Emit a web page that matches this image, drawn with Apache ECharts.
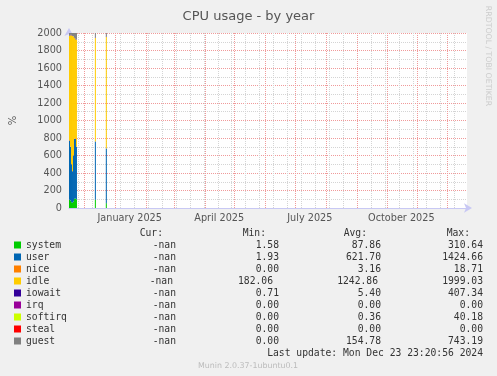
<!DOCTYPE html>
<html>
<head>
<meta charset="utf-8">
<title>CPU usage - by year</title>
<script src="https://cdn.jsdelivr.net/npm/echarts@6/dist/echarts.min.js"></script>
<style>
html, body { margin: 0; padding: 0; background: #f0f0f0; }
#main { width: 497px; height: 376px; }
</style>
</head>
<body>
<div id="main"></div>
<script type="text/javascript">
// daily samples that have data (rest of the year is empty)
var days = ['2024-11-16', '2024-11-17', '2024-11-18', '2024-11-19', '2024-11-20',
            '2024-11-21', '2024-11-22', '2024-11-23', '2024-12-12', '2024-12-23'];
var system  = [95, 85, 65, 60, 75, 105, 110, 100, 95, 55];
var user    = [675, 615, 435, 360, 525, 685, 680, 600, 665, 625];
var nice    = [3, 3, 2, 2, 3, 4, 4, 3, 3, 3];
var idle    = [1195, 1272, 1473, 1548, 1357, 1151, 1136, 1219, 1183, 1275];
var iowait  = [4, 5, 6, 5, 4, 6, 5, 4, 5, 5];
var irq     = [0, 0, 0, 0, 0, 0, 0, 0, 0, 0];
var softirq = [0.3, 0.3, 0.4, 0.3, 0.4, 0.3, 0.4, 0.3, 0.3, 0.3];
var steal   = [0, 0, 0, 0, 0, 0, 0, 0, 0, 0];
var guest   = [28, 20, 19, 25, 36, 49, 65, 74, 49, 37];

var names  = ['system', 'user', 'nice', 'idle', 'iowait', 'irq', 'softirq', 'steal', 'guest'];
var colors = ['#00cc00', '#0066b3', '#ff8000', '#ffcc00', '#330099', '#990099', '#ccff00', '#ff0000', '#808080'];
var curVals = ['-nan', '-nan', '-nan', '-nan', '-nan', '-nan', '-nan', '-nan', '-nan'];
var minVals = ['1.58', '1.93', '0.00', '182.06', '0.71', '0.00', '0.00', '0.00', '0.00'];
var avgVals = ['87.86', '621.70', '3.16', '1242.86', '5.40', '0.00', '0.36', '0.00', '154.78'];
var maxVals = ['310.64', '1424.66', '18.71', '1999.03', '407.34', '0.00', '40.18', '0.00', '743.19'];

var xStart = '2024-11-16';
var xEnd = '2025-12-21';
var monthStarts = ['2024-12-01', '2025-01-01', '2025-02-01', '2025-03-01', '2025-04-01', '2025-05-01',
                   '2025-06-01', '2025-07-01', '2025-08-01', '2025-09-01', '2025-10-01', '2025-11-01', '2025-12-01'];
var weekLines = ['2024-11-25', '2024-12-09', '2024-12-23', '2025-01-06', '2025-01-20', '2025-02-03', '2025-02-17',
                 '2025-03-03', '2025-03-17', '2025-03-31', '2025-04-14', '2025-04-28', '2025-05-12', '2025-05-26',
                 '2025-06-09', '2025-06-23', '2025-07-07', '2025-07-21', '2025-08-04', '2025-08-18', '2025-09-01',
                 '2025-09-15', '2025-09-29', '2025-10-13', '2025-10-27', '2025-11-10', '2025-11-24', '2025-12-08'];
var labelDays = ['2025-01-16', '2025-04-16', '2025-07-16', '2025-10-16'];
var monthNames = ['January', 'February', 'March', 'April', 'May', 'June', 'July',
                  'August', 'September', 'October', 'November', 'December'];
var lastUpdate = 'Last update: Mon Dec 23 23:20:56 2024';
var footer = 'Munin 2.0.37-1ubuntu0.1';

function ts(d) { return Date.parse(d + 'T00:00:00Z'); }
var DAY = 24 * 3600 * 1000;
var HALF_DAY = DAY / 2;

// stack the layers like rrdtool STACK does: each day is one column [start, bottom, top]
var seriesData = [system, user, nice, idle, iowait, irq, softirq, steal, guest];
var running = days.map(function () { return 0; });
var series = names.map(function (n, i) {
    var rows = days.map(function (d, j) {
        var lo = running[j];
        running[j] = lo + seriesData[i][j];
        return [ts(d), lo, running[j]];
    });
    return {
        name: n,
        type: 'custom',
        xAxisIndex: 0,
        z: 3,
        itemStyle: { color: colors[i] },
        encode: { x: 0, y: [1, 2] },
        renderItem: function (params, api) {
            var a = api.coord([api.value(0), api.value(1)]);
            var b = api.coord([api.value(0) + DAY, api.value(2)]);
            return {
                type: 'rect',
                shape: { x: a[0], y: b[1], width: b[0] - a[0], height: a[1] - b[1] },
                style: { fill: colors[i] }
            };
        },
        data: rows
    };
});

// vertical grid lines (month = red, every other monday = grey), centred on the day pixel
var vLines = weekLines.map(function (d) {
    return { xAxis: ts(d) + HALF_DAY, lineStyle: { color: '#d4d4d4', type: [1, 1], width: 1 } };
}).concat(monthStarts.map(function (d) {
    return { xAxis: ts(d) + HALF_DAY, lineStyle: { color: '#f09a9a', type: [1, 1], width: 1 } };
}));
series.unshift({
    name: 'grid',
    type: 'line',
    xAxisIndex: 0,
    data: [],
    z: 1,
    markLine: {
        silent: true,
        z: 1,
        symbol: ['none', 'none'],
        label: { show: false },
        animation: false,
        data: vLines
    }
});

var mono = 'DejaVu Sans Mono';
var txt = '#333';
var colX = [176, 279, 381, 483];
var headX = [163, 266, 367, 470];
var heads = ['Cur:', 'Min:', 'Avg:', 'Max:'];
// munin prints the idle row a little to the left in the first three columns
var rowShift = [[0, 0, 0, 0], [0, 0, 0, 0], [0, 0, 0, 0], [-3, -6, -3, 0], [0, 0, 0, 0],
                [0, 0, 0, 0], [0, 0, 0, 0], [0, 0, 0, 0], [0, 0, 0, 0]];
var rowY0 = 245, rowStep = 12;

var graphic = [];
heads.forEach(function (h, k) {
    graphic.push({ type: 'text', x: headX[k], y: 233,
        style: { text: h, font: '9.7px ' + mono, fill: txt, align: 'right', verticalAlign: 'middle' } });
});
[curVals, minVals, avgVals, maxVals].forEach(function (col, k) {
    col.forEach(function (v, i) {
        graphic.push({ type: 'text', x: colX[k] + rowShift[i][k], y: rowY0 + i * rowStep,
            style: { text: v, font: '9.7px ' + mono, fill: txt, align: 'right', verticalAlign: 'middle' } });
    });
});
graphic.push({ type: 'text', x: 483, y: 353,
    style: { text: lastUpdate, font: '9.7px ' + mono, fill: txt, align: 'right', verticalAlign: 'middle' } });
graphic.push({ type: 'text', x: 248, y: 366,
    style: { text: footer, font: '7.9px DejaVu Sans', fill: '#bbbbbb', align: 'center', verticalAlign: 'middle' } });
graphic.push({ type: 'text', x: 488, y: 56, rotation: -Math.PI / 2,
    style: { text: 'RRDTOOL / TOBI OETIKER', font: '7.8px DejaVu Sans', fill: '#cccccc', align: 'center', verticalAlign: 'middle' } });

var axisLineStyle = {
    show: true,
    symbol: ['none', 'arrow'],
    symbolSize: [7, 8],
    symbolOffset: [0, 5],
    lineStyle: { color: '#c8c8f4', width: 1 }
};

var myChart = echarts.init(document.getElementById('main'));
var option = {
    animation: false,
    backgroundColor: '#f0f0f0',
    title: {
        text: 'CPU usage - by year',
        left: 'center',
        top: 5,
        textStyle: { fontFamily: 'DejaVu Sans', fontSize: 13, fontWeight: 'normal', color: '#555' }
    },
    legend: {
        data: names,
        orient: 'vertical',
        left: 14,
        top: 239,
        padding: 0,
        itemGap: 0,
        itemWidth: 7,
        itemHeight: 7,
        icon: 'rect',
        selectedMode: false,
        textStyle: { fontFamily: mono, fontSize: 9.7, color: txt, lineHeight: 12 }
    },
    grid: {
        left: 67, right: 30, top: 33, bottom: 168,
        show: true, backgroundColor: '#ffffff', borderWidth: 0
    },
    xAxis: [{
        // time axis carrying the data
        type: 'time',
        position: 'bottom',
        min: ts(xStart),
        max: ts(xEnd),
        splitLine: { show: false },
        axisTick: { show: false },
        axisLabel: { show: false },
        axisLine: axisLineStyle
    }, {
        // same range, only for the mid-month labels
        type: 'value',
        position: 'bottom',
        min: ts(xStart),
        max: ts(xEnd),
        splitLine: { show: false },
        axisTick: { show: false },
        axisLine: { show: false },
        axisLabel: {
            customValues: labelDays.map(ts),
            formatter: function (v) {
                var d = new Date(v);
                return monthNames[d.getUTCMonth()] + ' ' + d.getUTCFullYear();
            },
            fontFamily: 'DejaVu Sans',
            fontSize: 9.7,
            color: '#555',
            margin: 5
        }
    }],
    yAxis: {
        type: 'value',
        min: 0,
        max: 2000,
        interval: 200,
        name: '%',
        nameLocation: 'middle',
        nameRotate: 90,
        nameGap: 51,
        nameTextStyle: { fontFamily: 'DejaVu Sans', fontSize: 10, color: '#555' },
        axisLine: axisLineStyle,
        axisTick: { show: false },
        minorTick: { show: false, splitNumber: 2 },
        axisLabel: {
            fontFamily: 'DejaVu Sans', fontSize: 9.7, color: '#555', margin: 7,
            formatter: function (v) { return String(v); }
        },
        splitLine: { show: true, lineStyle: { color: '#f09a9a', type: [1, 1] } },
        minorSplitLine: { show: true, lineStyle: { color: '#d4d4d4', type: [1, 1] } }
    },
    graphic: graphic,
    series: series
};
myChart.setOption(option);
</script>
</body>
</html>
